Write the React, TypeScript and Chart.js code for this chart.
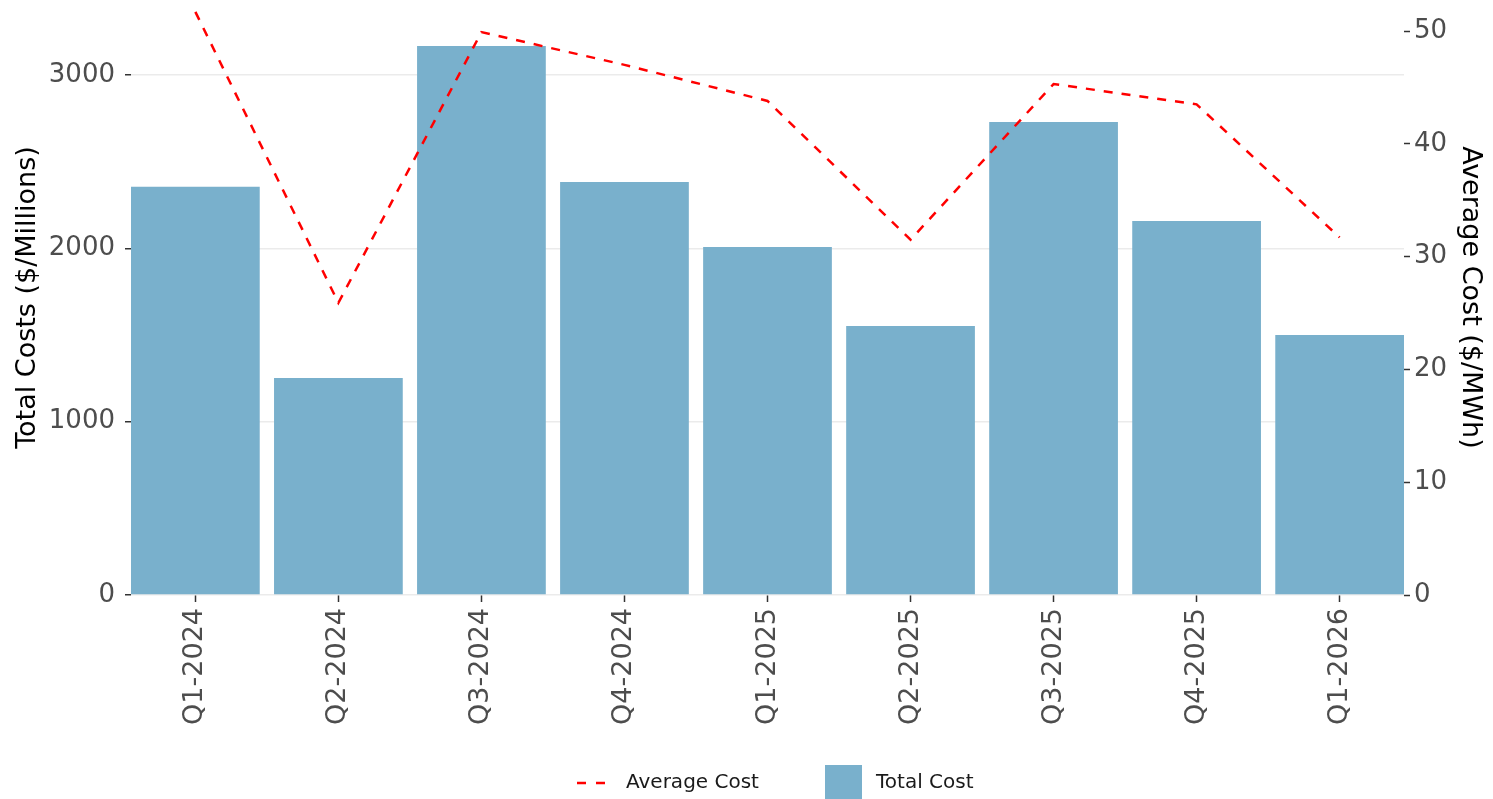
import React, { useEffect, useRef } from "react";
import { Chart, registerables } from "chart.js";

Chart.register(...registerables);

const categories = ["Q1-2024", "Q2-2024", "Q3-2024", "Q4-2024", "Q1-2025", "Q2-2025", "Q3-2025", "Q4-2025", "Q1-2026"];
const totalCost = [2355, 1252, 3167, 2383, 2008, 1552, 2729, 2158, 1500];
const averageCost = [51.7, 25.9, 49.9, 47.0, 43.8, 31.5, 45.3, 43.5, 31.7];
const leftTicks = [0, 1000, 2000, 3000];
const rightTicks = [0, 10, 20, 30, 40, 50];

const BAR_COLOR = "rgb(121,176,204)";
const LINE_COLOR = "#FF0000";
const FONT = "'DejaVu Sans', sans-serif";

const legendPlugin = {
  id: "customLegend",
  afterDraw(chart: any) {
    const ctx = chart.ctx;
    const ds = chart.data.datasets;
    const y = 783;
    ctx.save();
    ctx.font = `20px ${FONT}`;
    ctx.textBaseline = "middle";
    ctx.textAlign = "left";
    ctx.strokeStyle = LINE_COLOR;
    ctx.lineWidth = 2.5;
    ctx.setLineDash([9, 10]);
    ctx.beginPath();
    ctx.moveTo(577, y);
    ctx.lineTo(607, y);
    ctx.stroke();
    ctx.setLineDash([]);
    ctx.fillStyle = "#1A1A1A";
    ctx.fillText(ds[0].label, 626, y);
    ctx.fillStyle = BAR_COLOR;
    ctx.fillRect(825, 765, 37, 37);
    ctx.fillStyle = "#1A1A1A";
    ctx.fillText(ds[1].label, 876, y);
    ctx.restore();
  },
};

const zeroPad = (scale: any) => {
  scale.paddingTop = 0;
  scale.paddingBottom = 0;
  scale.paddingLeft = 0;
  scale.paddingRight = 0;
};

export default function App() {
  const ref = useRef<HTMLCanvasElement | null>(null);

  useEffect(() => {
    if (!ref.current) return;
    const chart = new Chart(ref.current, {
      type: "bar",
      data: {
        datasets: [
          {
            type: "line",
            label: "Average Cost",
            data: averageCost.map((v, i) => ({ x: i + 1, y: v })),
            yAxisID: "y1",
            borderColor: LINE_COLOR,
            backgroundColor: LINE_COLOR,
            borderWidth: 2.5,
            borderDash: [9, 9],
            pointRadius: 0,
            tension: 0,
            fill: false,
            order: 0,
          } as any,
          {
            type: "bar",
            label: "Total Cost",
            data: totalCost.map((v, i) => ({ x: i + 1, y: v })),
            yAxisID: "y",
            backgroundColor: BAR_COLOR,
            borderWidth: 0,
            barPercentage: 0.9,
            categoryPercentage: 1.0,
            order: 1,
          } as any,
        ],
      },
      options: {
        responsive: false,
        devicePixelRatio: 1,
        animation: false,
        layout: { padding: 0 },
        plugins: {
          legend: { display: false },
          tooltip: { enabled: false },
          title: { display: false },
        },
        scales: {
          x: {
            type: "linear",
            min: 0.55,
            max: 9.45,
            offset: false,
            bounds: "data",
            border: { display: false },
            grid: {
              offset: false,
              drawOnChartArea: false,
              drawTicks: true,
              tickLength: 7,
              tickColor: "#333333",
              tickWidth: 1.5,
            },
            afterBuildTicks: (scale: any) => {
              scale.ticks = categories.map((_, i) => ({ value: i + 1 }));
            },
            afterFit: (scale: any) => {
              scale.height = 204;
              zeroPad(scale);
            },
            ticks: {
              autoSkip: false,
              minRotation: 90,
              maxRotation: 90,
              padding: 6,
              color: "#4D4D4D",
              font: { family: FONT, size: 27 },
              callback: (v: any) => categories[Math.round(Number(v)) - 1] ?? "",
            },
          },
          y: {
            type: "linear",
            position: "left",
            min: 0,
            max: 3433,
            border: { display: false },
            grid: {
              color: "#EBEBEB",
              lineWidth: 1.5,
              drawTicks: true,
              tickLength: 6,
              tickColor: "#333333",
              tickWidth: 1.5,
            },
            afterBuildTicks: (scale: any) => {
              scale.ticks = leftTicks.map((v) => ({ value: v }));
            },
            afterFit: (scale: any) => {
              scale.width = 131;
              zeroPad(scale);
            },
            ticks: {
              padding: 10,
              color: "#4D4D4D",
              font: { family: FONT, size: 26 },
              callback: (v: any) => String(v),
            },
            title: {
              display: true,
              text: "Total Costs ($/Millions)",
              color: "#000000",
              font: { family: FONT, size: 27 },
              padding: { top: 12, bottom: 0 },
            },
          },
          y1: {
            type: "linear",
            position: "right",
            min: 0,
            max: 52.75,
            border: { display: false },
            grid: {
              drawOnChartArea: false,
              drawTicks: true,
              tickLength: 6,
              tickColor: "#333333",
              tickWidth: 1.5,
            },
            afterBuildTicks: (scale: any) => {
              scale.ticks = rightTicks.map((v) => ({ value: v }));
            },
            afterFit: (scale: any) => {
              scale.width = 89;
              zeroPad(scale);
            },
            ticks: {
              padding: 4,
              color: "#4D4D4D",
              font: { family: FONT, size: 26 },
              callback: (v: any) => String(v),
            },
            title: {
              display: true,
              text: "Average Cost ($/MWh)",
              color: "#000000",
              font: { family: FONT, size: 27 },
              padding: { top: 7, bottom: 0 },
            },
          },
        },
      } as any,
      plugins: [legendPlugin],
    });
    return () => chart.destroy();
  }, []);

  return (
    <div style={{ position: "fixed", left: 0, top: 0, width: 1493, height: 799, background: "#FFFFFF" }}>
      <canvas ref={ref} width={1493} height={799} style={{ width: 1493, height: 799, display: "block" }} />
    </div>
  );
}
